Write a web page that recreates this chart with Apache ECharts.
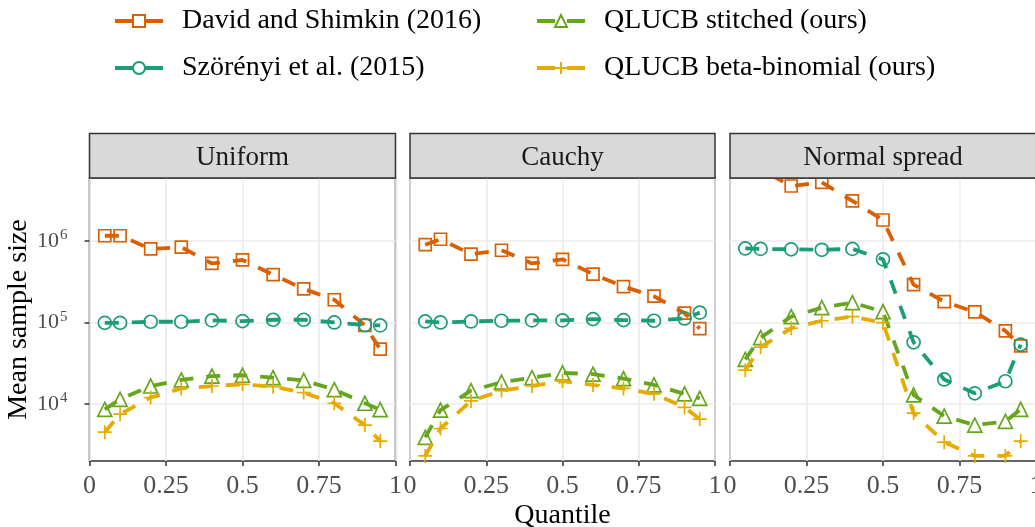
<!DOCTYPE html>
<html>
<head>
<meta charset="utf-8">
<script src="https://cdn.jsdelivr.net/npm/echarts@6/dist/echarts.min.js"></script>
<style>html,body{margin:0;padding:0;background:#fff}#c{width:1035px;height:527px}</style>
</head>
<body>
<div id="c"></div>
<script>
// ---- data ----
const quantiles = [0.05, 0.1, 0.2, 0.3, 0.4, 0.5, 0.6, 0.7, 0.8, 0.9, 0.95];
const panels = ['Uniform', 'Cauchy', 'Normal spread'];
const seriesNames = ['David and Shimkin (2016)', 'Szörényi et al. (2015)', 'QLUCB stitched (ours)', 'QLUCB beta-binomial (ours)'];
const xTicks = [0, 0.25, 0.5, 0.75, 1];
const yTicks = [1e4, 1e5, 1e6];

const david_uniform    = [1.16e6, 1.16e6, 8.0e5, 8.4e5, 5.3e5, 5.85e5, 3.86e5, 2.58e5, 1.9e5, 9.2e4, 4.7e4];
const szorenyi_uniform = [9.9e4, 9.9e4, 1.02e5, 1.02e5, 1.06e5, 1.04e5, 1.08e5, 1.08e5, 1.0e5, 9.3e4, 9.2e4];
const stitched_uniform = [8.6e3, 1.14e4, 1.66e4, 1.97e4, 2.2e4, 2.25e4, 2.1e4, 1.95e4, 1.5e4, 1.02e4, 8.5e3];
const beta_uniform     = [4.5e3, 7.5e3, 1.2e4, 1.55e4, 1.66e4, 1.74e4, 1.63e4, 1.38e4, 1.02e4, 5.5e3, 3.5e3];

const david_cauchy    = [9.0e5, 1.05e6, 6.9e5, 7.7e5, 5.3e5, 5.96e5, 3.93e5, 2.75e5, 2.1e5, 1.3e5, 8.4e4];
const szorenyi_cauchy = [1.03e5, 1.0e5, 1.03e5, 1.05e5, 1.06e5, 1.06e5, 1.1e5, 1.07e5, 1.05e5, 1.12e5, 1.32e5];
const stitched_cauchy = [3.9e3, 8.4e3, 1.46e4, 1.85e4, 2.1e4, 2.4e4, 2.33e4, 2.05e4, 1.71e4, 1.33e4, 1.17e4];
const beta_cauchy     = [2.3e3, 5.0e3, 1.09e4, 1.46e4, 1.66e4, 1.91e4, 1.71e4, 1.55e4, 1.33e4, 9.1e3, 6.5e3];

const david_normal    = [7.0e6, 7.5e6, 4.73e6, 5.25e6, 3.1e6, 1.81e6, 2.91e5, 1.8e5, 1.35e5, 7.9e4, 5.15e4];
const szorenyi_normal = [8.1e5, 8.0e5, 7.9e5, 7.8e5, 8.0e5, 5.96e5, 5.7e4, 2.0e4, 1.35e4, 1.9e4, 5.35e4];
const stitched_normal = [3.53e4, 6.5e4, 1.18e5, 1.52e5, 1.75e5, 1.36e5, 1.29e4, 7.1e3, 5.5e3, 6.1e3, 8.6e3];
const beta_normal     = [2.6e4, 4.97e4, 8.5e4, 1.05e5, 1.18e5, 9.95e4, 7.7e3, 3.4e3, 2.3e3, 2.3e3, 3.5e3];

const panelData = [
  [david_uniform, szorenyi_uniform, stitched_uniform, beta_uniform],
  [david_cauchy, szorenyi_cauchy, stitched_cauchy, beta_cauchy],
  [david_normal, szorenyi_normal, stitched_normal, beta_normal]
];

// ---- style ----
const colors = ['#D95F02', '#1B9E77', '#66A61E', '#E6AB02'];
const plusPath = 'path://M0,5L10,5M5,0L5,10';
const symbols = ['rect', 'circle', 'triangle', plusPath];
const symbolSizes = [12, 13, 14, 14];
const FONT = 'Liberation Serif';
const gridLefts = [89.5, 410, 730];
const gridWidths = [306, 305, 306];
const gridTop = 178, gridHeight = 283;
const yMin = Math.pow(10, 3.30), yMax = Math.pow(10, 6.773);

const chart = echarts.init(document.getElementById('c'), null, {renderer: 'canvas'});

const grids = [], xAxes = [], yAxes = [], series = [], graphics = [];
panels.forEach((p, i) => {
  grids.push({left: gridLefts[i], top: gridTop, width: gridWidths[i], height: gridHeight,
    show: true, borderColor: '#333333', borderWidth: 1.5, backgroundColor: '#fff',
    containLabel: false, outerBoundsMode: 'none'});
  xAxes.push({
    gridIndex: i, type: 'value', min: 0, max: 1, interval: 0.25,
    axisLine: {show: false},
    axisTick: {show: true, length: 5, lineStyle: {color: '#333333', width: 1.5}},
    axisLabel: {show: true, color: '#4D4D4D', fontFamily: FONT, fontSize: 26, margin: 12,
      showMinLabel: true, showMaxLabel: true, hideOverlap: false,
      formatter: v => String(+(+v).toFixed(2))},
    splitLine: {show: true, lineStyle: {color: '#EBEBEB', width: 1.6}}
  });
  yAxes.push({
    gridIndex: i, type: 'log', logBase: 10, min: yMin, max: yMax,
    axisLine: {show: false},
    axisTick: {show: i === 0, length: 5, customValues: yTicks, lineStyle: {color: '#333333', width: 1.5}},
    axisLabel: {show: i === 0, margin: 22, customValues: yTicks,
      formatter: v => {
        const e = Math.log10(v);
        if (Math.abs(e - Math.round(e)) > 1e-6) return '';
        return '{b|10}{s|' + Math.round(e) + '}';
      },
      rich: {
        b: {color: '#4D4D4D', fontFamily: FONT, fontSize: 22},
        s: {color: '#4D4D4D', fontFamily: FONT, fontSize: 15, padding: [0, 0, 11, 1]}
      }
    },
    splitLine: {show: true, lineStyle: {color: '#EBEBEB', width: 1.6}},
    name: i === 0 ? 'Mean sample size' : '', nameLocation: 'middle', nameGap: 54,
    nameTextStyle: {color: '#000', fontFamily: FONT, fontSize: 28}
  });
  panelData[i].forEach((vals, k) => {
    series.push({
      name: seriesNames[k], type: 'line', xAxisIndex: i, yAxisIndex: i,
      data: quantiles.map((q, j) => [q, vals[j]]),
      symbol: symbols[k], symbolSize: symbolSizes[k], showSymbol: true, clip: true,
      itemStyle: {color: 'rgba(0,0,0,0)', borderColor: colors[k], borderWidth: 1.7},
      lineStyle: {color: colors[k], width: 3.8, type: [14, 13], cap: 'butt'},
      emphasis: {disabled: true}, z: 2 + k
    });
  });
  graphics.push({
    type: 'rect', z: 10,
    shape: {x: gridLefts[i], y: 133.5, width: gridWidths[i], height: 44.5},
    style: {fill: '#D9D9D9', stroke: '#333333', lineWidth: 1.5}
  });
  graphics.push({
    type: 'text', z: 11, x: gridLefts[i] + gridWidths[i] / 2, y: 157.5,
    style: {text: p, fill: '#1A1A1A', font: '27px "' + FONT + '"', align: 'center', verticalAlign: 'middle'}
  });
});
graphics.push({
  type: 'text', z: 11, x: gridLefts[1] + gridWidths[1] / 2, y: 516,
  style: {text: 'Quantile', fill: '#000', font: '28px "' + FONT + '"', align: 'center', verticalAlign: 'middle'}
});

const legendBase = {
  orient: 'vertical', selectedMode: false, itemWidth: 48, itemHeight: 15, itemGap: 17, padding: 0,
  textStyle: {fontFamily: FONT, fontSize: 28, color: '#000', lineHeight: 30, padding: [0, 0, 0, 14]},
  lineStyle: {type: [18, 12], width: 4}
};
const legends = [
  Object.assign({}, legendBase, {left: 113, top: 6, data: [seriesNames[0], seriesNames[1]]}),
  Object.assign({}, legendBase, {left: 535, top: 6, data: [seriesNames[2], seriesNames[3]]})
];

chart.setOption({
  animation: false,
  backgroundColor: '#fff',
  grid: grids, xAxis: xAxes, yAxis: yAxes, series: series,
  legend: legends,
  graphic: graphics
});
</script>
</body>
</html>
